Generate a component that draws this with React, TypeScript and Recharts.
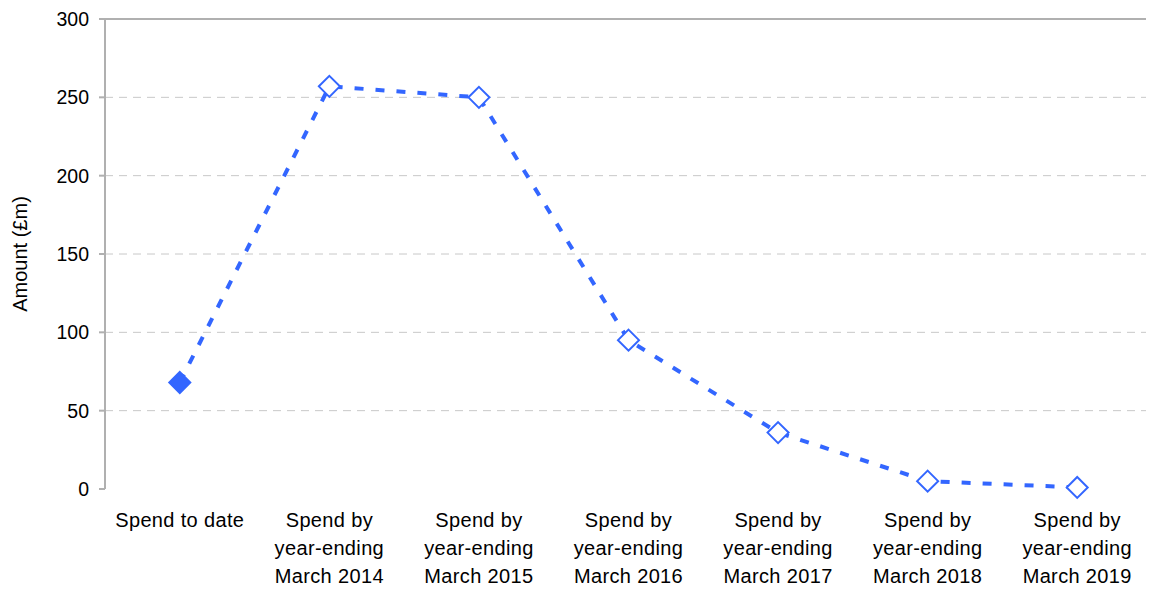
import React from "react";
import { LineChart, Line, XAxis, YAxis, CartesianGrid, ReferenceLine } from "recharts";

// Category labels (each line of a label is separated by "\n")
const categories: string[] = [
  "Spend to date",
  "Spend by\nyear-ending\nMarch 2014",
  "Spend by\nyear-ending\nMarch 2015",
  "Spend by\nyear-ending\nMarch 2016",
  "Spend by\nyear-ending\nMarch 2017",
  "Spend by\nyear-ending\nMarch 2018",
  "Spend by\nyear-ending\nMarch 2019",
];

// Spend amounts in £m
const amounts: number[] = [68, 257, 250, 95, 36, 5, 1];

const yTicks: number[] = [0, 50, 100, 150, 200, 250, 300];
const boundaryTicks: number[] = [0, 1, 2, 3, 4, 5, 6, 7];
const centerTicks: number[] = categories.map((_, i) => i + 0.5);

const data = categories.map((name, i) => ({ x: i + 0.5, name, amount: amounts[i] }));

const BLUE = "#3366FF";
const FONT = "'Liberation Sans', Arial, sans-serif";

const Diamond = (props: any) => {
  const { cx, cy, index } = props;
  if (cx == null || cy == null) return null;
  const r = 10.5;
  const pts = `${cx},${cy - r} ${cx + r},${cy} ${cx},${cy + r} ${cx - r},${cy}`;
  const filled = index === 0;
  return (
    <polygon
      key={`d-${index}`}
      points={pts}
      fill={filled ? BLUE : "#ffffff"}
      stroke={BLUE}
      strokeWidth={2}
    />
  );
};

const CategoryTick = (props: any) => {
  const { x, y, payload } = props;
  const idx = Math.round(payload.value - 0.5);
  const lines = (categories[idx] || "").split("\n");
  return (
    <text
      x={x}
      y={y}
      textAnchor="middle"
      fontFamily={FONT}
      fontSize={20}
      fill="#000"
      letterSpacing={0.35}
    >
      {lines.map((l, i) => (
        <tspan key={i} x={x} dy={i === 0 ? 30 : 28}>
          {l}
        </tspan>
      ))}
    </text>
  );
};

export default function App() {
  return (
    <LineChart
      width={1146}
      height={586}
      data={data}
      margin={{ top: 11, right: 2, bottom: 0, left: 0 }}
    >
      <CartesianGrid
        vertical={false}
        stroke="#c8c8c8"
        strokeDasharray="8 6"
        horizontalValues={[50, 100, 150, 200, 250]}
      />
      <ReferenceLine y={300} stroke="#b0b0b0" strokeWidth={2} />
      <ReferenceLine x={7} stroke="#b0b0b0" strokeWidth={2} />
      <XAxis
        dataKey="x"
        type="number"
        domain={[0, 7]}
        ticks={centerTicks}
        interval={0}
        tickLine={false}
        axisLine={false}
        tick={<CategoryTick />}
        height={105}
      />
      <XAxis
        xAxisId="bounds"
        type="number"
        domain={[0, 7]}
        ticks={boundaryTicks}
        interval={0}
        tick={false}
        tickSize={7}
        tickLine={{ stroke: "#b0b0b0", strokeWidth: 2 }}
        axisLine={{ stroke: "#b0b0b0", strokeWidth: 2 }}
        height={0}
      />
      <YAxis
        domain={[0, 300]}
        ticks={yTicks}
        interval={0}
        width={97}
        tickSize={6}
        tickMargin={10}
        tickLine={{ stroke: "#b0b0b0", strokeWidth: 2 }}
        axisLine={{ stroke: "#b0b0b0", strokeWidth: 2 }}
        tick={{ fill: "#000", fontSize: 19.5, fontFamily: FONT }}
        label={{
          value: "Amount (£m)",
          angle: -90,
          position: "insideLeft",
          dx: 7,
          style: { textAnchor: "middle", fontSize: 20, fontFamily: FONT, fill: "#000" },
        }}
      />
      <Line
        type="linear"
        dataKey="amount"
        stroke={BLUE}
        strokeWidth={4}
        strokeDasharray="9 12"
        dot={<Diamond />}
        activeDot={false}
        isAnimationActive={false}
      />
    </LineChart>
  );
}
